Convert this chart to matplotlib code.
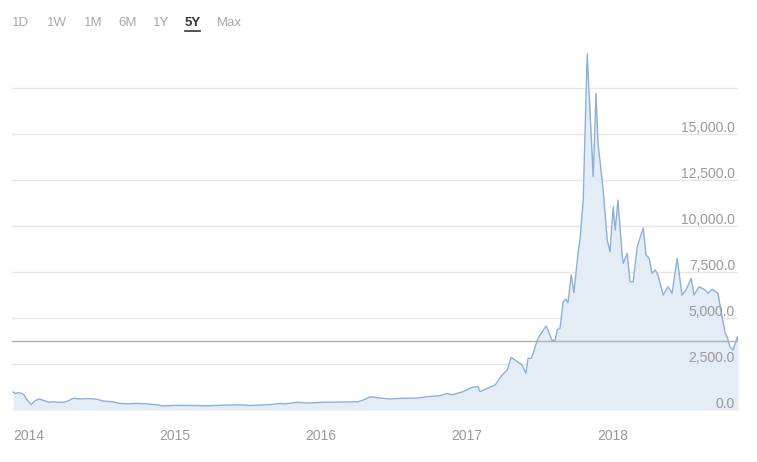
import matplotlib
matplotlib.use("Agg")
import matplotlib.pyplot as plt
import matplotlib.transforms as mtransforms
import pandas as pd

plt.rcParams.update({
    "font.family": ["Liberation Sans", "DejaVu Sans"],
    "font.size": 10,
    "figure.facecolor": "white",
    "axes.facecolor": "white",
})

# Price history (USD)
dates = [
    "2014-01-01", "2014-01-06", "2014-01-13", "2014-01-23", "2014-01-28",
    "2014-02-05", "2014-02-15", "2014-02-25", "2014-03-07", "2014-03-22",
    "2014-04-01", "2014-04-11", "2014-04-21", "2014-05-06", "2014-05-18",
    "2014-05-31", "2014-06-17", "2014-07-12", "2014-07-30", "2014-08-14",
    "2014-09-05", "2014-09-25", "2014-10-13", "2014-11-07", "2014-12-02",
    "2014-12-27", "2015-01-11", "2015-02-05", "2015-03-12", "2015-05-01",
    "2015-06-27", "2015-07-22", "2015-08-16", "2015-10-05", "2015-10-30",
    "2015-11-12", "2015-12-12", "2016-01-06", "2016-02-15", "2016-03-28",
    "2016-05-12", "2016-05-25", "2016-06-11", "2016-06-29", "2016-07-31",
    "2016-09-02", "2016-10-07", "2016-11-01", "2016-12-03", "2016-12-21",
    "2017-01-02", "2017-01-30", "2017-02-21", "2017-03-08", "2017-03-13",
    "2017-04-02", "2017-04-20", "2017-05-07", "2017-05-20", "2017-05-30",
    "2017-06-14", "2017-06-26", "2017-07-06", "2017-07-11", "2017-07-19",
    "2017-07-24", "2017-08-05", "2017-08-25", "2017-08-30", "2017-09-09",
    "2017-09-17", "2017-09-22", "2017-09-29", "2017-10-07", "2017-10-14",
    "2017-10-19", "2017-10-27", "2017-11-03", "2017-11-13", "2017-11-18",
    "2017-11-26", "2017-12-06", "2017-12-21", "2017-12-28", "2018-01-02",
    "2018-01-15", "2018-01-25", "2018-02-01", "2018-02-09", "2018-02-14",
    "2018-02-21", "2018-03-03", "2018-03-06", "2018-03-16", "2018-03-23",
    "2018-03-31", "2018-04-10", "2018-04-25", "2018-05-02", "2018-05-10",
    "2018-05-17", "2018-05-25", "2018-06-01", "2018-06-14", "2018-06-26",
    "2018-07-06", "2018-07-19", "2018-07-31", "2018-08-10", "2018-08-23",
    "2018-08-30", "2018-09-12", "2018-09-27", "2018-10-04", "2018-10-14",
    "2018-10-29", "2018-11-08", "2018-11-16", "2018-11-21", "2018-11-28",
    "2018-12-06", "2018-12-16", "2018-12-18",
]
prices = [
    980, 900, 940, 900, 820,
    540, 300, 510, 600, 490,
    420, 450, 420, 420, 490,
    640, 600, 620, 580, 490,
    450, 360, 330, 360, 330,
    280, 220, 250, 250, 230,
    270, 280, 250, 290, 360,
    330, 420, 380, 420, 430,
    450, 540, 720, 670, 600,
    640, 650, 720, 780, 900,
    820, 1000, 1230, 1270, 1000,
    1190, 1360, 1900, 2170, 2860,
    2630, 2450, 2000, 2810, 2810,
    3080, 3900, 4560, 4350, 3770,
    3800, 4350, 4440, 5890, 6020,
    5830, 7340, 6380, 8530, 9240,
    11410, 19350, 12680, 17210, 14490,
    11960, 9240, 8600, 11050, 9780,
    11410, 8510, 7970, 8510, 6970,
    6970, 8870, 9890, 8420, 8240,
    7430, 7610, 7340, 6250, 6700,
    6340, 8240, 6250, 6520, 7160,
    6250, 6700, 6520, 6340, 6560,
    6340, 5070, 4170, 3980, 3440,
    3260, 3980, 3800,
]
last_price = 3750

y_ticks = [2500, 5000, 7500, 10000, 12500, 15000, 17500]
y_labels = ["2,500.0", "5,000.0", "7,500.0", "10,000.0", "12,500.0", "15,000.0", ""]
zero_label = "0.0"
year_ticks = ["2014-01-01", "2015-01-01", "2016-01-01", "2017-01-01", "2018-01-01"]
year_labels = ["2014", "2015", "2016", "2017", "2018"]
range_buttons = ["1D", "1W", "1M", "6M", "1Y", "5Y", "Max"]
active_button = "5Y"

line_color = "#8cb0da"
fill_color = "#e4ecf5"
grid_color = "#e6e6e6"
label_color = "#9a9a9a"

x = pd.to_datetime(dates)
fig = plt.figure(figsize=(7.57, 4.62), dpi=100)
ax = fig.add_axes([12 / 757, 52 / 462, 726 / 757, 368 / 462])

for t in y_ticks:
    ax.axhline(t, color=grid_color, linewidth=1, zorder=0)

ax.fill_between(x, prices, 0, color=fill_color, linewidth=0, zorder=1)
ax.plot(x, prices, color=line_color, linewidth=1.0, zorder=2)
ax.axhline(last_price, color="#b0b0b0", linewidth=1, zorder=3)

ax.set_xlim(pd.Timestamp("2013-12-29"), x[-1])
ax.set_ylim(0, 20000)

# value labels sit inside the plot, right-aligned, just above the gridline
trans = mtransforms.blended_transform_factory(ax.transAxes, ax.transData)
trans = trans + mtransforms.ScaledTranslation(-3 / 100, 1.5 / 100, fig.dpi_scale_trans)
for t, lab in zip([0] + y_ticks, [zero_label] + y_labels):
    ax.text(1.0, t, lab, transform=trans, ha="right", va="baseline",
            color=label_color, fontsize=10, zorder=4)

ax.set_yticks([])
ax.set_xticks(pd.to_datetime(year_ticks))
ax.set_xticklabels(year_labels, ha="left", color=label_color, fontsize=10)
ax.tick_params(axis="x", length=0, pad=14)
for s in ax.spines.values():
    s.set_visible(False)

# range selector row
bx = [12, 47, 84, 118, 153, 185, 217]
for px, lab in zip(bx, range_buttons):
    active = lab == active_button
    fig.text(px / 757, 1 - 23 / 462, lab, ha="left", va="center",
             fontsize=9.5, color="#333333" if active else "#a8a8a8",
             fontweight="bold" if active else "normal")
    if active:
        fig.add_artist(plt.Line2D([px / 757, (px + 15) / 757],
                                  [1 - 31 / 462, 1 - 31 / 462],
                                  color="#333333", linewidth=1.2))

fig.savefig("out.png", dpi=100)
